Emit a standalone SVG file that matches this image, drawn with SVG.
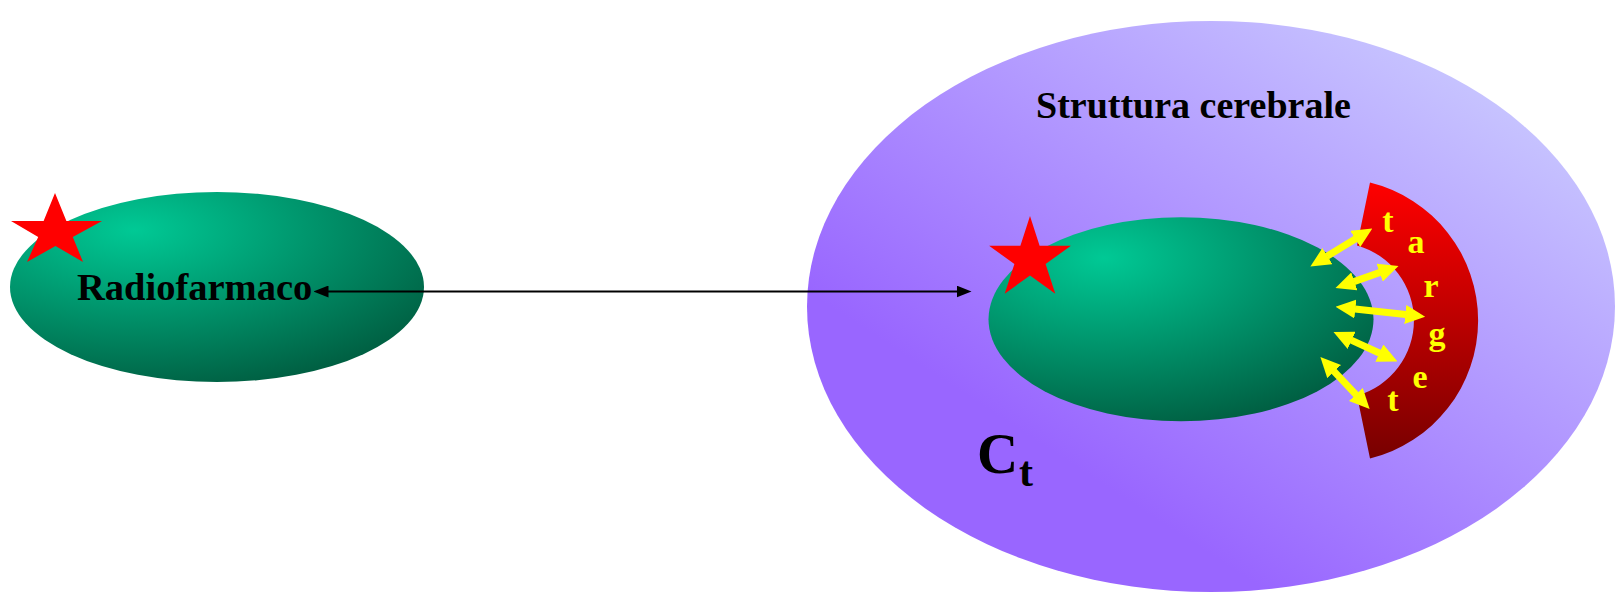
<svg xmlns="http://www.w3.org/2000/svg" width="1623" height="593" viewBox="0 0 1623 593">
<style>
.lbl{font-family:"Liberation Serif","Times New Roman",serif;font-weight:bold;fill:#000}
.tg{font-family:"Liberation Serif","Times New Roman",serif;font-weight:bold;fill:#ffff00;font-size:34px;text-anchor:middle}
.star{fill:#ff0000}
.ya{stroke:#ffff00;stroke-width:7;fill:none;marker-start:url(#yh);marker-end:url(#yh)}
.ba{stroke:#000;stroke-width:2;fill:none;marker-start:url(#bh);marker-end:url(#bh)}
</style>
<defs>
<radialGradient id="green" cx="0.3" cy="0.2" r="0.9" fx="0.3" fy="0.2">
<stop offset="0" stop-color="#00c995"/>
<stop offset="1" stop-color="#005a3e"/>
</radialGradient>
<linearGradient id="purple" x1="0.9" y1="0.1" x2="0.3" y2="0.75">
<stop offset="0" stop-color="#cacaff"/>
<stop offset="1" stop-color="#9966ff"/>
</linearGradient>
<linearGradient id="red" x1="0" y1="0" x2="0" y2="1">
<stop offset="0" stop-color="#ff0000"/>
<stop offset="1" stop-color="#780000"/>
</linearGradient>
<marker id="yh" viewBox="0 0 20 19" refX="0.5" refY="9.5" markerWidth="20" markerHeight="19" markerUnits="userSpaceOnUse" orient="auto-start-reverse">
<path d="M0,0 L20,9.5 L0,19 z" fill="#ffff00"/>
</marker>
<marker id="bh" viewBox="0 0 15 12" refX="0.5" refY="6" markerWidth="15" markerHeight="12" markerUnits="userSpaceOnUse" orient="auto-start-reverse">
<path d="M0,0 L15,6 L0,12 z" fill="#000"/>
</marker>
</defs>
<g id="struttura">
<ellipse cx="1211" cy="306.5" rx="404" ry="285.5" fill="url(#purple)"/>
<text class="lbl" x="1036" y="118" font-size="38">Struttura cerebrale</text>
<text class="lbl" x="977" y="473" font-size="57">C</text>
<text class="lbl" x="1019" y="486" font-size="42">t</text>
</g>
<g id="radiofarmaco">
<ellipse cx="217" cy="287" rx="207" ry="95" fill="url(#green)"/>
<polygon class="star" points="55,193 66.4,221 102,221 72.8,237 83,262 55.5,246 27,262 38.2,237 11,221 43.6,221"/>
<text class="lbl" x="77" y="300" font-size="38.5">Radiofarmaco</text>
</g>
<g id="legato">
<ellipse cx="1181" cy="319.3" rx="192.5" ry="102" fill="url(#green)"/>
<polygon class="star" points="1030,216 1039.6,245.7 1070.9,245.7 1045.6,264.1 1055.3,293.8 1030,275.4 1004.7,293.8 1014.4,264.1 989.1,245.7 1020.4,245.7"/>
</g>
<g id="target">
<path d="M1370,182.6 A142,142 0 0 1 1370,458.4 L1357,395.6 A78,78 0 0 0 1357,245.4 Z" fill="url(#red)"/>
<text class="tg" x="1388" y="232">t</text>
<text class="tg" x="1416" y="253">a</text>
<text class="tg" x="1431" y="297">r</text>
<text class="tg" x="1437" y="345">g</text>
<text class="tg" x="1420" y="388">e</text>
<text class="tg" x="1393" y="411">t</text>
</g>
<g id="connectors">
<line class="ba" x1="328" y1="291.5" x2="957" y2="291.5"/>
<line class="ya" x1="1327" y1="256.3" x2="1355.7" y2="238.7"/>
<line class="ya" x1="1353.9" y1="281.6" x2="1380.1" y2="272.4"/>
<line class="ya" x1="1354.9" y1="308.9" x2="1405.8" y2="314.5"/>
<line class="ya" x1="1351.2" y1="340.1" x2="1379.8" y2="353.3"/>
<line class="ya" x1="1333.8" y1="371.2" x2="1356.2" y2="394.8"/>
</g>
</svg>
